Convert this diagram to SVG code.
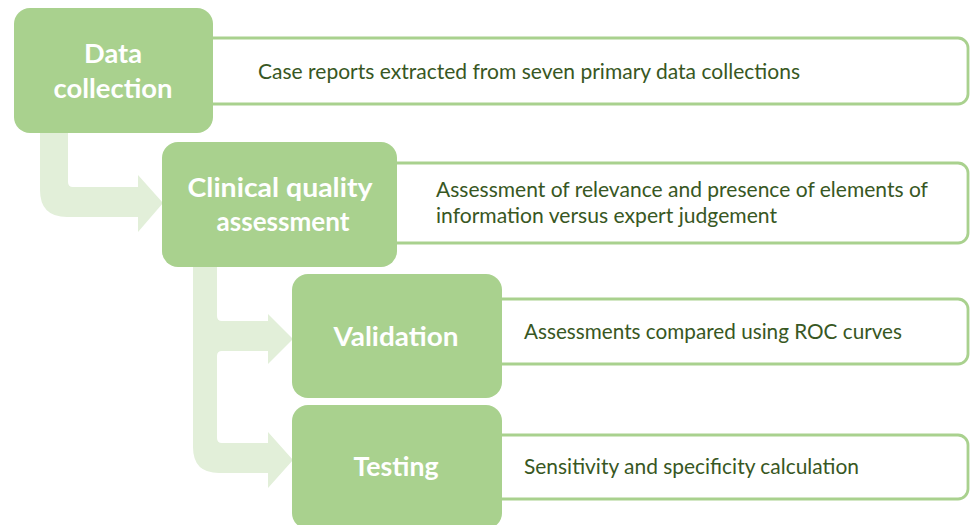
<svg xmlns="http://www.w3.org/2000/svg" width="970" height="525" viewBox="0 0 970 525">
  <style>
    .step { fill: #a9d18e; }
    .note { fill: #ffffff; stroke: #a9d18e; stroke-width: 2.8; }
    .flow { fill: #e2efd9; }
    .label { font-family: Lato, "Open Sans", "Liberation Sans", sans-serif; font-weight: bold; font-size: 27px; fill: #ffffff; text-anchor: middle; }
    .desc { font-family: Lato, "Open Sans", "Liberation Sans", sans-serif; font-size: 20.5px; fill: #385723; }
  </style>
  <rect width="970" height="525" fill="#ffffff"/>

  <!-- flow arrows behind the step boxes -->
  <g id="connectors">
    <path class="flow" d="M 40 120 V 190 Q 40 217 67 217 H 138 V 232 L 163 203 L 138 175 V 187 H 73 Q 68 187 68 182 V 120 Z"/>
    <path class="flow" d="M 193 255 V 447 Q 193 473 219 473 H 268 V 488 L 293 460 L 268 432 V 443 H 222 Q 217 443 217 438 V 356 Q 217 351 222 351 H 268 V 364 L 293 339 L 268 314 V 321 H 222 Q 217 321 217 316 V 255 Z"/>
  </g>

  <g id="data-collection">
    <rect class="note" x="195" y="38" width="773" height="66" rx="10"/>
    <rect class="step" x="14" y="8" width="199" height="125" rx="16"/>
    <text class="label" x="113" y="63" textLength="58" lengthAdjust="spacingAndGlyphs">Data</text>
    <text class="label" x="113" y="98" textLength="119" lengthAdjust="spacingAndGlyphs">collection</text>
    <text class="desc" x="258" y="79" textLength="542" lengthAdjust="spacingAndGlyphs">Case reports extracted from seven primary data collections</text>
  </g>

  <g id="clinical-quality-assessment">
    <rect class="note" x="380" y="163" width="588" height="80" rx="10"/>
    <rect class="step" x="162" y="142" width="235" height="125" rx="16"/>
    <text class="label" x="280" y="197" textLength="185" lengthAdjust="spacingAndGlyphs">Clinical quality</text>
    <text class="label" x="283" y="231" textLength="133" lengthAdjust="spacingAndGlyphs">assessment</text>
    <text class="desc" x="436" y="197" textLength="492" lengthAdjust="spacingAndGlyphs">Assessment of relevance and presence of elements of</text>
    <text class="desc" x="436" y="223" textLength="341" lengthAdjust="spacingAndGlyphs">information versus expert judgement</text>
  </g>

  <g id="validation">
    <rect class="note" x="480" y="299" width="488" height="65" rx="10"/>
    <rect class="step" x="292" y="274" width="210" height="124" rx="16"/>
    <text class="label" x="396" y="346" textLength="125" lengthAdjust="spacingAndGlyphs">Validation</text>
    <text class="desc" x="524" y="339" textLength="378" lengthAdjust="spacingAndGlyphs">Assessments compared using ROC curves</text>
  </g>

  <g id="testing">
    <rect class="note" x="480" y="435" width="488" height="64" rx="10"/>
    <rect class="step" x="292" y="405" width="210" height="124" rx="16"/>
    <text class="label" x="396" y="476" textLength="85" lengthAdjust="spacingAndGlyphs">Testing</text>
    <text class="desc" x="524" y="474" textLength="335" lengthAdjust="spacingAndGlyphs">Sensitivity and specificity calculation</text>
  </g>
</svg>
